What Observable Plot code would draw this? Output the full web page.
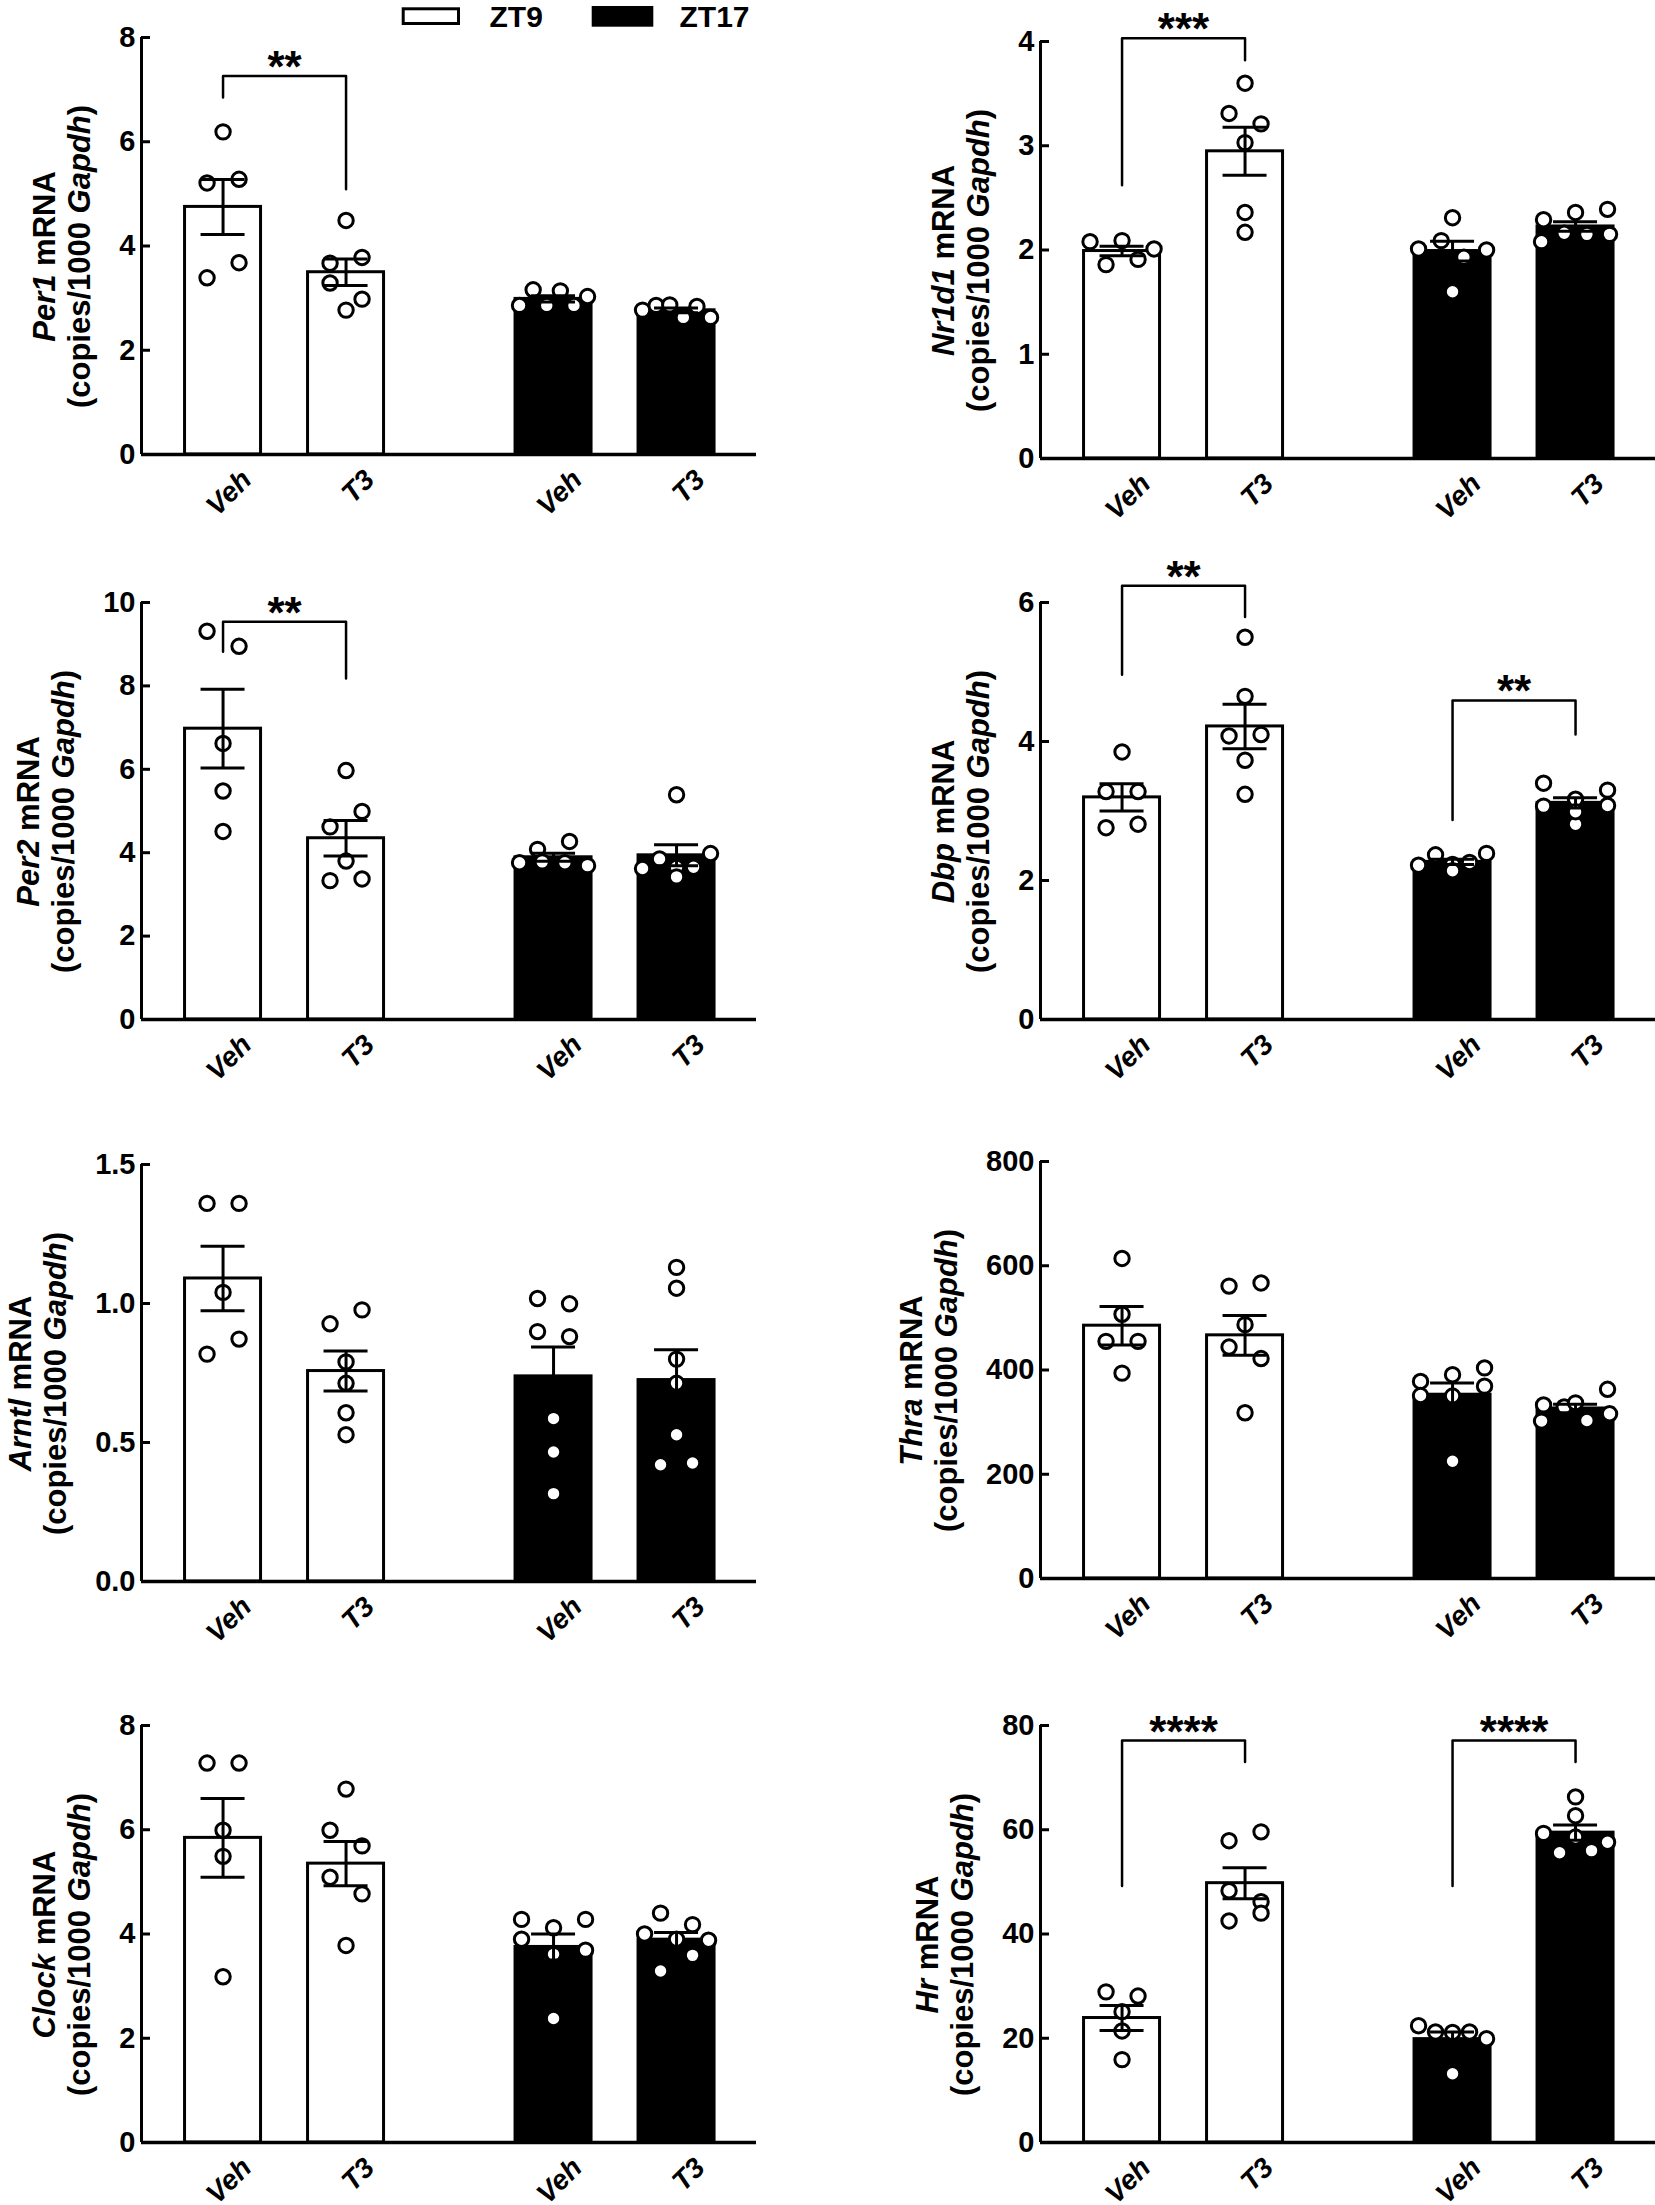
<!DOCTYPE html>
<html><head><meta charset="utf-8">
<script src="https://cdn.jsdelivr.net/npm/d3@7"></script>
<script src="https://cdn.jsdelivr.net/npm/@observablehq/plot@0.6"></script>
<style>
html,body{margin:0;padding:0;background:#fff;overflow:hidden;}
#fig{position:relative;width:1655px;height:2205px;background:#fff;}
#fig svg{position:absolute;overflow:visible;}
</style></head><body><div id="fig"></div>
<script>
// ---------------- data ----------------
const treatments = ["Veh", "T3", "Veh", "T3"];
const phases = ["ZT9", "ZT9", "ZT17", "ZT17"];
const legendLabels = ["ZT9", "ZT17"];

// values per group (ZT9 Veh, ZT9 T3, ZT17 Veh, ZT17 T3), listed left-to-right as they appear
const per1Values = [[5.21, 3.39, 6.19, 5.28, 3.68], [3.67, 3.29, 2.77, 4.49, 3.78, 2.98], [2.86, 3.16, 2.86, 3.14, 2.86, 3.03], [2.77, 2.86, 2.87, 2.63, 2.84, 2.63]];
const per1Ticks = [0, 2, 4, 6, 8];
const per1Brackets = [{from: 0, to: 1, y: 7.26, yFrom: 6.85, yTo: 5.09, label: "**"}];

const nr1d1Values = [[2.08, 1.86, 2.09, 1.91, 2.01], [3.31, 3.60, 3.03, 2.36, 2.17, 3.21], [2.01, 2.31, 2.09, 1.93, 1.60, 2.00], [2.29, 2.08, 2.16, 2.36, 2.15, 2.39, 2.15]];
const nr1d1Ticks = [0, 1, 2, 3, 4];
const nr1d1Brackets = [{from: 0, to: 1, y: 4.03, yFrom: 2.62, yTo: 3.82, label: "***"}];

const per2Values = [[9.31, 6.62, 5.48, 4.51, 8.95], [4.62, 3.80, 3.33, 5.97, 4.99, 3.37], [3.76, 4.08, 3.78, 4.27, 3.76, 3.69], [3.62, 3.85, 5.39, 3.65, 3.65, 3.98, 3.42]];
const per2Ticks = [0, 2, 4, 6, 8, 10];
const per2Brackets = [{from: 0, to: 1, y: 9.54, yFrom: 8.82, yTo: 8.18, label: "**"}];

const dbpValues = [[3.28, 2.76, 3.85, 3.28, 2.81], [4.08, 5.50, 4.65, 3.73, 3.24, 4.10], [2.22, 2.37, 2.23, 2.26, 2.39, 2.14], [3.40, 3.07, 3.17, 2.81, 3.30, 2.99, 3.08]];
const dbpTicks = [0, 2, 4, 6];
const dbpBrackets = [{from: 0, to: 1, y: 6.24, yFrom: 4.96, yTo: 5.79, label: "**"}, {from: 2, to: 3, y: 4.59, yFrom: 2.87, yTo: 4.10, label: "**"}];

const arntlValues = [[1.36, 0.818, 1.04, 1.36, 0.872], [0.927, 0.790, 0.713, 0.607, 0.528, 0.977], [1.018, 0.899, 0.586, 0.466, 0.316, 0.999, 0.881], [0.420, 1.130, 1.055, 0.800, 0.713, 0.528, 0.426]];
const arntlTicks = [0, 0.5, 1.0, 1.5];
const arntlBrackets = [];

const thraValues = [[455, 614, 507, 394, 455], [561, 444, 487, 318, 567, 422], [378, 391, 351, 225, 404, 350, 369], [333, 302, 329, 337, 303, 363, 316]];
const thraTicks = [0, 200, 400, 600, 800];
const thraBrackets = [];

const clockValues = [[7.28, 5.99, 5.49, 3.18, 7.28], [5.09, 6.78, 5.99, 5.69, 3.78, 4.77], [4.28, 3.90, 4.12, 3.61, 2.38, 4.28, 3.69], [4.00, 4.40, 3.90, 3.29, 3.88, 3.59, 4.18]];
const clockTicks = [0, 2, 4, 6, 8];
const clockBrackets = [];

const hrValues = [[28.9, 25.1, 21.4, 15.9, 28.1], [57.9, 42.5, 48.3, 59.6, 46.2, 44.0], [22.4, 21.2, 21.1, 13.2, 21.2, 19.9], [59.3, 55.6, 58.6, 66.3, 62.7, 56.0, 57.6]];
const hrTicks = [0, 20, 40, 60, 80];
const hrBrackets = [{from: 0, to: 1, y: 77.1, yFrom: 49.2, yTo: 73.0, label: "****"}, {from: 2, to: 3, y: 77.1, yFrom: 49.2, yTo: 73.0, label: "****"}];

const panels = [
  {gene: "Per1", values: per1Values, ticks: per1Ticks, brackets: per1Brackets, format: d3.format("d")},
  {gene: "Nr1d1", values: nr1d1Values, ticks: nr1d1Ticks, brackets: nr1d1Brackets, format: d3.format("d")},
  {gene: "Per2", values: per2Values, ticks: per2Ticks, brackets: per2Brackets, format: d3.format("d")},
  {gene: "Dbp", values: dbpValues, ticks: dbpTicks, brackets: dbpBrackets, format: d3.format("d")},
  {gene: "Arntl", values: arntlValues, ticks: arntlTicks, brackets: arntlBrackets, format: d3.format(".1f")},
  {gene: "Thra", values: thraValues, ticks: thraTicks, brackets: thraBrackets, format: d3.format("d")},
  {gene: "Clock", values: clockValues, ticks: clockTicks, brackets: clockBrackets, format: d3.format("d")},
  {gene: "Hr", values: hrValues, ticks: hrTicks, brackets: hrBrackets, format: d3.format("d")}
];

// ---------------- layout ----------------
const FONT = '"Liberation Sans", Arial, Helvetica, sans-serif';
const AXIS_X = [141, 1040];
const AXIS_TOP = [37, 41, 602, 602, 1164, 1161, 1725, 1725];
const H = 417, MT = 60, MB = 95, ML = 165, PW = 615;
const XDOM = [-0.663, 4.337];
const X_POS = [0, 1, 2.687, 3.687];
const UNIT = PW / (XDOM[1] - XDOM[0]);
const BAR_HALF_PX = 38, CAP_HALF_PX = 22, TICK_PX = 9, DOT_R = 7.2, DOT_D = 17;

const fig = document.getElementById("fig");

function arrange(vals, ymax) {
  const py = v => v / ymax * H;
  const order = d3.range(vals.length).sort((a, b) => vals[b] - vals[a]);
  const rows = [];
  for (const i of order) {
    const row = rows[rows.length - 1];
    if (row && py(vals[row[0]]) - py(vals[i]) < DOT_D) row.push(i); else rows.push([i]);
  }
  const off = new Array(vals.length).fill(0);
  for (const row of rows) {
    row.sort((a, b) => a - b);
    const m = row.length;
    const s = m > 1 ? Math.min(32, 68 / (m - 1)) : 0;
    row.forEach((i, k) => off[i] = (k - (m - 1) / 2) * s);
  }
  return off;
}

panels.forEach((p, i) => {
  const ymax = d3.max(p.ticks);
  const bars = p.values.map((vals, g) => {
    const m = d3.mean(vals), se = d3.deviation(vals) / Math.sqrt(vals.length);
    return {g, x: X_POS[g], mean: m, lo: m - se, hi: m + se, phase: phases[g], label: treatments[g]};
  });
  const dots = p.values.flatMap((vals, g) => {
    const off = arrange(vals, ymax);
    return vals.map((v, k) => ({x: X_POS[g] + off[k] / UNIT, y: v}));
  });
  const bracketPts = p.brackets.flatMap((b, j) => [
    {id: j, x: X_POS[b.from], y: b.yFrom}, {id: j, x: X_POS[b.from], y: b.y},
    {id: j, x: X_POS[b.to], y: b.y}, {id: j, x: X_POS[b.to], y: b.yTo}]);
  const stars = p.brackets.map(b => ({x: (X_POS[b.from] + X_POS[b.to]) / 2, y: b.y, label: b.label}));
  const bw = BAR_HALF_PX / UNIT, cw = CAP_HALF_PX / UNIT, tw = TICK_PX / UNIT;

  const svg = Plot.plot({
    width: ML + PW, height: MT + H + MB,
    marginLeft: ML, marginRight: 0, marginTop: MT, marginBottom: MB,
    x: {domain: XDOM, axis: null},
    y: {domain: [0, ymax], axis: null},
    style: {fontFamily: FONT, fontWeight: "bold", background: "transparent", overflow: "visible", color: "black"},
    marks: [
      Plot.rect(bars.filter(d => d.phase === "ZT9"), {x1: d => d.x - bw, x2: d => d.x + bw, y1: 0, y2: "mean", fill: "white", stroke: "black", strokeWidth: 3}),
      Plot.rect(bars.filter(d => d.phase === "ZT17"), {x1: d => d.x - bw, x2: d => d.x + bw, y1: 0, y2: "mean", fill: "black", stroke: "black", strokeWidth: 3}),
      Plot.dot(dots, {x: "x", y: "y", r: DOT_R, fill: "white", stroke: "black", strokeWidth: 3}),
      Plot.ruleX(bars, {x: "x", y1: "lo", y2: "hi", stroke: "black", strokeWidth: 3}),
      Plot.ruleY(bars, {y: "hi", x1: d => d.x - cw, x2: d => d.x + cw, stroke: "black", strokeWidth: 3}),
      Plot.ruleY(bars, {y: "lo", x1: d => d.x - cw, x2: d => d.x + cw, stroke: "black", strokeWidth: 3}),
      Plot.ruleY([0], {stroke: "black", strokeWidth: 3.5}),
      Plot.ruleX([XDOM[0]], {y1: 0, y2: ymax, stroke: "black", strokeWidth: 3}),
      Plot.ruleY(p.ticks, {y: d => d, x1: XDOM[0], x2: XDOM[0] + tw, stroke: "black", strokeWidth: 3}),
      Plot.axisY(p.ticks, {tickSize: 0, tickPadding: 6, tickFormat: p.format, fontSize: 29, fontWeight: "bold", label: null}),
      Plot.text(bars, {x: "x", frameAnchor: "bottom", text: "label", rotate: -45, textAnchor: "end", lineAnchor: "bottom", dx: 30, dy: 27, fontSize: 28, fontWeight: "bold", fontStyle: "italic"}),
      Plot.line(bracketPts, {x: "x", y: "y", z: "id", stroke: "black", strokeWidth: 2.5}),
      Plot.text(stars, {x: "x", y: "y", text: "label", fontSize: 44, fontWeight: "bold", lineAnchor: "bottom", dy: 6})
    ]
  });
  const col = i % 2;
  svg.style.left = (AXIS_X[col] - ML) + "px";
  svg.style.top = (AXIS_TOP[i] - MT) + "px";
  fig.appendChild(svg);

  // y-axis title (two lines, gene name italic)
  const tl = svg.querySelector('g[aria-label="y-axis tick label"]');
  const sr = svg.getBoundingClientRect();
  const left = tl ? tl.getBoundingClientRect().left - sr.left : ML - 30;
  const c2 = left - 37, c1 = c2 - 38;
  const cy = MT + H / 2 + 11;
  const s = d3.select(svg);
  const t1 = s.append("text").attr("transform", `translate(${c1 + 11},${cy}) rotate(-90)`)
    .attr("text-anchor", "middle").attr("font-size", 31).attr("font-weight", "bold")
    .attr("font-family", FONT).style("white-space", "pre");
  t1.append("tspan").attr("font-style", "italic").text(p.gene);
  t1.append("tspan").text(" mRNA");
  const t2 = s.append("text").attr("transform", `translate(${c2 + 8},${cy}) rotate(-90)`)
    .attr("text-anchor", "middle").attr("font-size", 31).attr("font-weight", "bold")
    .attr("font-family", FONT).style("white-space", "pre");
  t2.append("tspan").text("(copies/1000 ");
  t2.append("tspan").attr("font-style", "italic").text("Gapdh");
  t2.append("tspan").text(")");
});

// legend
const leg = d3.select(fig).append("svg").attr("width", 800).attr("height", 40)
  .style("left", "0px").style("top", "0px");
leg.append("rect").attr("x", 403.2).attr("y", 8.8).attr("width", 55.3).attr("height", 14.7)
  .attr("fill", "white").attr("stroke", "black").attr("stroke-width", 3);
leg.append("text").attr("x", 489.5).attr("y", 26.7).text(legendLabels[0])
  .attr("font-family", FONT).attr("font-weight", "bold").attr("font-size", 30);
leg.append("rect").attr("x", 591.7).attr("y", 6).attr("width", 61.6).attr("height", 20.7).attr("fill", "black");
leg.append("text").attr("x", 679.5).attr("y", 26.7).text(legendLabels[1])
  .attr("font-family", FONT).attr("font-weight", "bold").attr("font-size", 30);
</script></body></html>
